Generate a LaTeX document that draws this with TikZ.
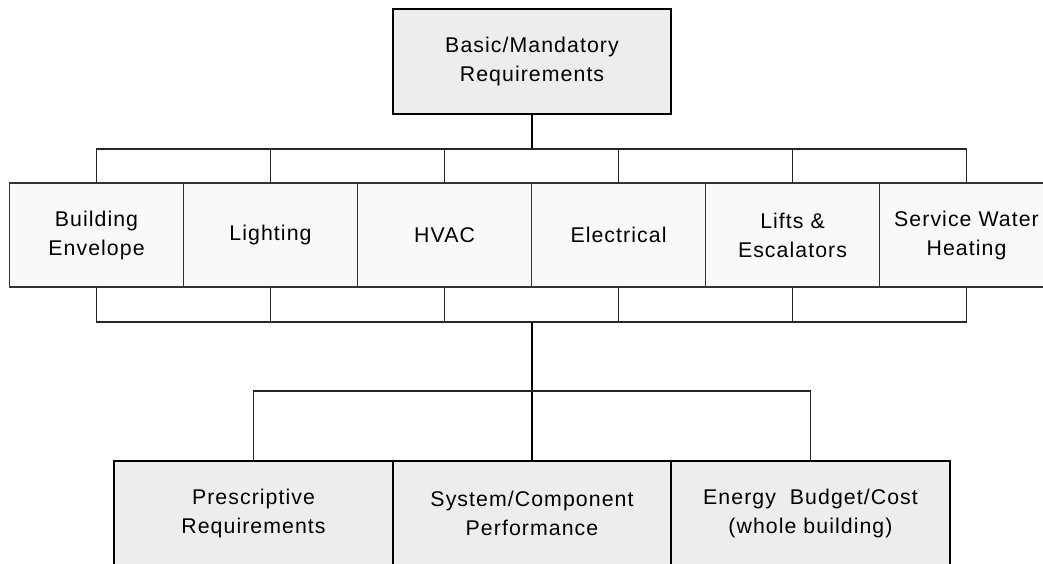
\documentclass[tikz,border=0pt]{standalone}
\usepackage{fontspec}
\setmainfont[LetterSpace=5]{Liberation Sans}
\usetikzlibrary{positioning}

\tikzset{
  mainbox/.style={draw=black, line width=2.4pt, fill=black!7, inner sep=0pt, outer sep=0pt,
    minimum width=278.5pt, minimum height=105pt, align=center},
  subbox/.style={draw=black!80, line width=1.3pt, fill=black!2.5, inner sep=0pt, outer sep=0pt,
    minimum width=174pt, minimum height=104pt, align=center},
  link/.style={draw=black!85, line width=1.4pt},
  trunk/.style={draw=black, line width=2pt},
}

\begin{document}
\begin{tikzpicture}[x=1pt, y=-1pt, font=\fontsize{21.3}{29}\selectfont]
\useasboundingbox (0,0) rectangle (1043,563);

\node[mainbox] (top) at (532, 61.5) {Basic/Mandatory\\Requirements};

\node[subbox] (m1) at (96.5, 235) {Building\\Envelope};
\node[subbox, right=0pt of m1] (m2) {Lighting};
\node[subbox, right=0pt of m2] (m3) {HVAC};
\node[subbox, right=0pt of m3] (m4) {Electrical};
\node[subbox, right=0pt of m4] (m5) {Lifts \&\\Escalators};
\node[subbox, right=0pt of m5] (m6) {Service Water\\Heating};

\node[mainbox] (b2) at (532, 513.5) {System/Component\\Performance};
\node[mainbox, left=0pt of b2] (b1) {Prescriptive\\Requirements};
\node[mainbox, right=0pt of b2] (b3) {Energy~~Budget/Cost\\(whole building)};

\coordinate (bus1) at (532, 149);
\coordinate (bus2) at (532, 322);
\coordinate (bus3) at (532, 391);

\draw[trunk] (top) -- (bus1);
\foreach \i in {1,...,6} {
  \draw[link] (m\i.north) |- (bus1);
  \draw[link] (m\i.south) |- (bus2);
}
\draw[trunk] (bus2) -- (bus3) -- (b2);
\draw[link] (b1.north) |- (bus3);
\draw[link] (b3.north) |- (bus3);

\end{tikzpicture}
\end{document}
